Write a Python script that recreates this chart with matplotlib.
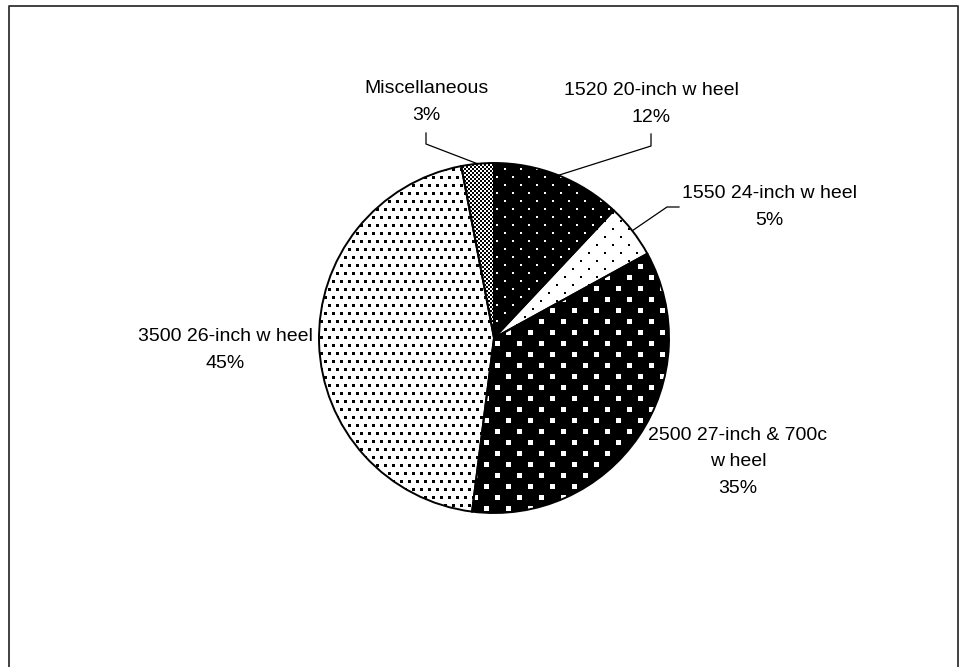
import numpy as np
import matplotlib.pyplot as plt

# Доли продаж по моделям колёс, %
labels = ["1520 20-inch w heel", "1550 24-inch w heel",
          "2500 27-inch & 700c\nw heel", "3500 26-inch w heel",
          "Miscellaneous"]
shares = [12, 5, 35, 45, 3]
pct_text = ["12%", "5%", "35%", "45%", "3%"]

W, H = 968, 667
fig = plt.figure(figsize=(W / 100, H / 100), dpi=100)
ax = fig.add_axes([0, 0, 1, 1])

# Круговая диаграмма: от 12 часов по часовой стрелке (ось y перевёрнута)
cx, cy, R = 494, 338, 175
wedges, _ = ax.pie(shares, center=(cx, cy), radius=R, startangle=-90,
                   counterclock=True,
                   wedgeprops=dict(facecolor="none", edgecolor="black",
                                   linewidth=1.4, zorder=3))

# Заливки-узоры в пикселях
yy, xx = np.mgrid[0:H, 0:W]


def dots(px, py, size, ox=0.0, oy=0.0):
    # точки в рядах через py, соседние ряды сдвинуты на px/2
    row = np.floor((yy + oy) / py).astype(int)
    shift = (row % 2) * px / 2
    in_y = ((yy + oy) % py) < size
    in_x = ((xx + ox - shift) % px) < size
    return in_y & in_x


p_1520 = np.where(dots(16, 8, 2), 1.0, 0.0)
p_1550 = np.where(dots(16, 8, 2, 4, 4), 0.0, 1.0)
p_2500 = np.where(dots(22, 11, 5), 1.0, 0.0)
p_3500 = np.where(dots(8, 8, 3), 0.0, 1.0)
p_misc = ((xx // 2 + yy // 2) % 2).astype(float)
patterns = [p_1520, p_1550, p_2500, p_3500, p_misc]

for w, pat in zip(wedges, patterns):
    im = ax.imshow(pat, cmap="gray", vmin=0, vmax=1, extent=(0, W, H, 0),
                   interpolation="nearest", zorder=1)
    im.set_clip_path(w)

ax.set_xlim(0, W)
ax.set_ylim(H, 0)
ax.set_aspect("equal")
ax.axis("off")

font = dict(family=["Liberation Sans", "DejaVu Sans"], fontsize=14,
            ha="center", va="center", linespacing=1.7, color="black")

# Подписи с выносными линиями
label_pos = [(651, 104), (769, 207), (738, 462), (225, 350), (426, 102)]
for lab, pct, (tx, ty) in zip(labels, pct_text, label_pos):
    ax.text(tx, ty, lab + "\n" + pct, **font)


def rim_point(w):
    a = np.deg2rad((w.theta1 + w.theta2) / 2)
    return cx + R * np.cos(a), cy + R * np.sin(a)


leaders = {4: [(426, 133), (426, 144)],
           0: [(651, 134), (651, 146)],
           1: [(679, 207), (667, 207)]}
for i, pts in leaders.items():
    px, py = rim_point(wedges[i])
    xs = [p[0] for p in pts] + [px]
    ys = [p[1] for p in pts] + [py]
    ax.plot(xs, ys, color="black", linewidth=0.9, zorder=4)

# Рамка области диаграммы
ax.plot([8.5, 8.5, 958, 958], [667, 6, 6, 667], color="#333333",
        linewidth=1.3)

fig.savefig("out.png", dpi=100)
